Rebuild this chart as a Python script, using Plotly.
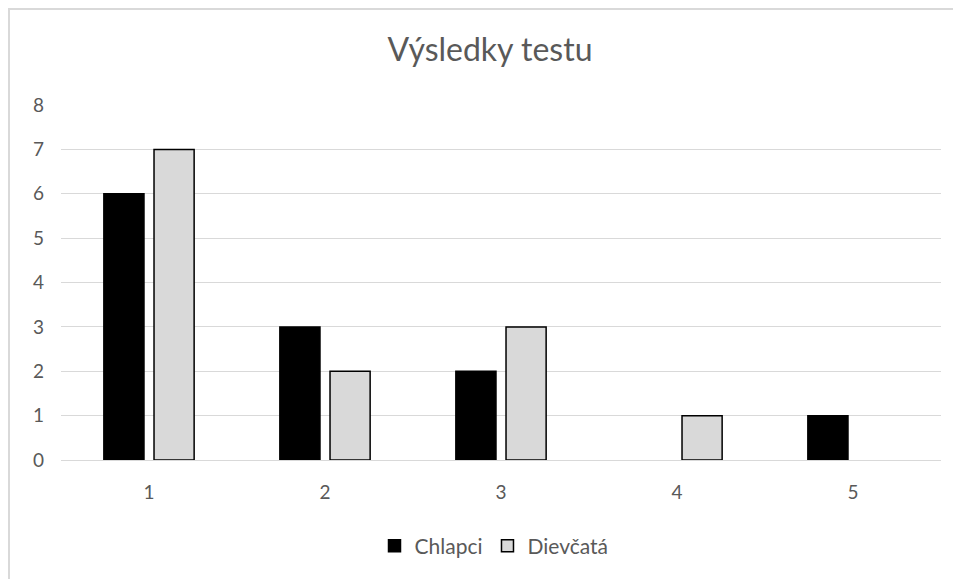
import plotly.graph_objects as go

categories = ["1", "2", "3", "4", "5"]
chlapci = [6, 3, 2, 0, 1]
dievcata = [7, 2, 3, 1, 0]
title_text = "Výsledky testu"

FONT = "Lato"
GRAY = "#595959"

# page body adds 8px offset; plot area placed so it lands at 61..941 x 105..460 on screen
L, R, T, B = 53, 28, 97, 127
PW = 961 - L - R
PH = 579 - T - B

def outline(vals):
    return [1.5 if v else 0 for v in vals]

fig = go.Figure()
fig.add_trace(go.Bar(name="Chlapci", x=categories, y=chlapci,
                     marker=dict(color="#000000", line=dict(color="#000000", width=outline(chlapci)))))
fig.add_trace(go.Bar(name="Dievčatá", x=categories, y=dievcata,
                     marker=dict(color="#d9d9d9", line=dict(color="#000000", width=outline(dievcata)))))

fig.update_layout(
    width=961, height=579,
    margin=dict(l=L, r=R, t=T, b=B),
    paper_bgcolor="white", plot_bgcolor="white",
    barmode="group", bargap=0.43, bargroupgap=0.2,
    title=dict(text=title_text, x=(490 - 8) / 961, xanchor="center", y=1 - 42 / 579, yanchor="middle",
               font=dict(family=FONT, size=32, color=GRAY)),
    font=dict(family=FONT, color=GRAY, size=18),
    xaxis=dict(type="category", showgrid=False, showline=False, zeroline=False,
               ticks="", tickfont=dict(size=19, color=GRAY), ticklabelstandoff=19),
    yaxis=dict(range=[0, 8], dtick=1, showgrid=True, gridcolor="#d9d9d9", gridwidth=1.3,
               zeroline=True, zerolinecolor="#d9d9d9", zerolinewidth=1.3, showline=False,
               ticks="", tickfont=dict(size=19, color=GRAY), ticklabelstandoff=16),
    legend=dict(orientation="h", x=(494 - 61) / 880, xanchor="center", y=-(538 - 452) / PH, yanchor="middle",
                font=dict(size=21, color=GRAY), traceorder="normal", itemwidth=30),
    showlegend=True,
    shapes=[dict(type="rect", xref="paper", yref="paper",
                 x0=(1 - L) / PW, x1=1.1, y0=-0.4, y1=(T - 1) / PH + 1,
                 line=dict(color="#d9d9d9", width=2), fillcolor="rgba(0,0,0,0)", layer="below")],
)

fig.write_html("out.html")
